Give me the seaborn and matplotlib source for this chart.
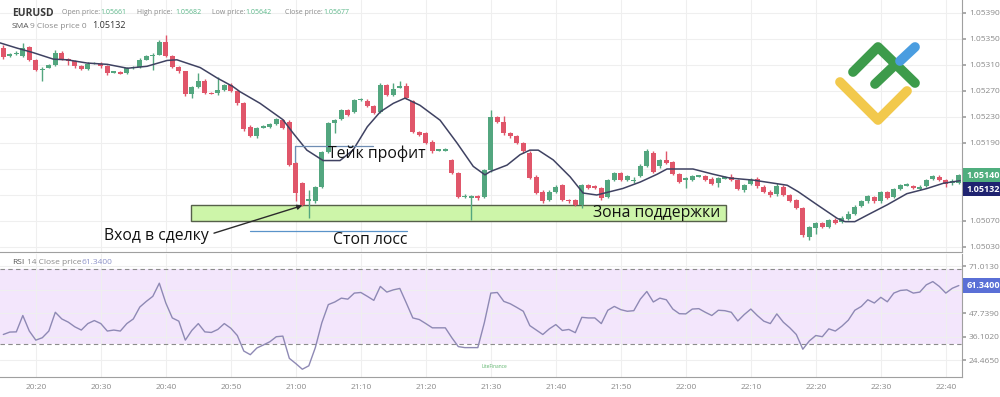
import numpy as np
import matplotlib
matplotlib.use('Agg')
import matplotlib.pyplot as plt
from matplotlib.patches import Rectangle
from matplotlib.lines import Line2D
import seaborn as sns

# ==================== 数据 ====================
# 1-минутные свечи EURUSD, 20:15 ... 22:42 (цены в 1e-5)
start_time = '20:15'
opens = [105336, 105325, 105327, 105324, 105338, 105318, 105303, 105306, 105310, 105329,
         105319, 105316, 105308, 105304, 105312, 105312, 105308, 105299, 105299, 105297,
         105305, 105307, 105318, 105324, 105326, 105346, 105324, 105307, 105300, 105265,
         105276, 105286, 105267, 105267, 105272, 105279, 105270, 105251, 105215, 105200,
         105214, 105215, 105219, 105225, 105223, 105159, 105128, 105102, 105101, 105122,
         105176, 105221, 105227, 105241, 105238, 105256, 105255, 105247, 105238, 105279,
         105264, 105276, 105278, 105254, 105207, 105205, 105192, 105179, 105179, 105164,
         105144, 105108, 105107, 105108, 105107, 105148, 105230, 105223, 105205, 105200,
         105190, 105175, 105138, 105115, 105102, 105115, 105125, 105102, 105102, 105095,
         105125, 105123, 105121, 105107, 105133, 105144, 105133, 105132, 105139, 105155,
         105175, 105154, 105164, 105160, 105142, 105134, 105133, 105139, 105139, 105135,
         105128, 105136, 105138, 105133, 105118, 105127, 105135, 105123, 105115, 105111,
         105123, 105110, 105102, 105090, 105045, 105059, 105067, 105061, 105072, 105069,
         105073, 105081, 105093, 105100, 105107, 105100, 105114, 105107, 105119, 105125,
         105124, 105119, 105124, 105135, 105138, 105133, 105128, 105129]
closes = [105322, 105326, 105328, 105336, 105318, 105302, 105304, 105310, 105329, 105319,
          105316, 105308, 105304, 105312, 105313, 105308, 105298, 105299, 105297, 105305,
          105307, 105318, 105324, 105326, 105346, 105324, 105307, 105300, 105265, 105276,
          105286, 105267, 105266, 105272, 105279, 105270, 105251, 105211, 105201, 105213,
          105215, 105219, 105227, 105213, 105156, 105113, 105095, 105103, 105122, 105176,
          105221, 105225, 105241, 105233, 105256, 105257, 105247, 105236, 105279, 105264,
          105273, 105276, 105259, 105207, 105202, 105190, 105177, 105179, 105180, 105144,
          105107, 105108, 105107, 105105, 105148, 105230, 105223, 105205, 105200, 105190,
          105177, 105136, 105113, 105100, 105115, 105122, 105102, 105101, 105095, 105125,
          105121, 105121, 105105, 105133, 105144, 105133, 105139, 105132, 105155, 105177,
          105146, 105164, 105159, 105142, 105130, 105135, 105139, 105139, 105133, 105127,
          105136, 105136, 105133, 105119, 105125, 105133, 105124, 105115, 105110, 105124,
          105110, 105101, 105090, 105048, 105061, 105067, 105061, 105071, 105067, 105075,
          105081, 105092, 105100, 105108, 105100, 105114, 105106, 105119, 105125, 105126,
          105121, 105123, 105133, 105139, 105133, 105127, 105132, 105140]
highs = [105341, 105329, 105332, 105344, 105339, 105319, 105307, 105312, 105333, 105332,
         105321, 105318, 105310, 105314, 105315, 105314, 105310, 105300, 105301, 105307,
         105309, 105320, 105326, 105328, 105348, 105356, 105326, 105308, 105301, 105278,
         105298, 105288, 105268, 105292, 105281, 105283, 105272, 105253, 105217, 105215,
         105217, 105221, 105229, 105227, 105225, 105161, 105130, 105118, 105124, 105178,
         105223, 105227, 105243, 105243, 105258, 105259, 105257, 105248, 105283, 105281,
         105282, 105286, 105282, 105256, 105209, 105207, 105194, 105181, 105182, 105166,
         105146, 105111, 105110, 105110, 105150, 105241, 105232, 105231, 105207, 105202,
         105192, 105177, 105140, 105117, 105117, 105126, 105127, 105104, 105104, 105127,
         105127, 105125, 105123, 105135, 105146, 105146, 105141, 105138, 105157, 105180,
         105178, 105166, 105178, 105162, 105144, 105137, 105141, 105141, 105141, 105137,
         105138, 105139, 105142, 105135, 105127, 105136, 105137, 105125, 105117, 105128,
         105126, 105112, 105104, 105092, 105063, 105069, 105069, 105073, 105074, 105077,
         105085, 105094, 105102, 105110, 105109, 105116, 105116, 105121, 105127, 105129,
         105126, 105125, 105135, 105141, 105140, 105135, 105134, 105142]
lows = [105319, 105323, 105326, 105322, 105316, 105301, 105285, 105305, 105308, 105317,
        105310, 105306, 105302, 105302, 105311, 105306, 105294, 105298, 105296, 105296,
        105304, 105306, 105317, 105302, 105325, 105323, 105305, 105298, 105263, 105259,
        105274, 105265, 105265, 105264, 105270, 105268, 105249, 105209, 105199, 105197,
        105213, 105213, 105218, 105211, 105154, 105100, 105093, 105075, 105098, 105120,
        105174, 105205, 105225, 105231, 105236, 105255, 105245, 105234, 105236, 105262,
        105262, 105274, 105257, 105205, 105200, 105188, 105175, 105177, 105178, 105142,
        105105, 105106, 105072, 105103, 105105, 105146, 105221, 105203, 105198, 105188,
        105175, 105134, 105111, 105098, 105100, 105113, 105100, 105098, 105093, 105090,
        105119, 105119, 105103, 105105, 105131, 105131, 105131, 105129, 105137, 105153,
        105144, 105152, 105157, 105140, 105128, 105121, 105131, 105137, 105131, 105125,
        105122, 105134, 105131, 105117, 105114, 105125, 105120, 105113, 105107, 105109,
        105108, 105099, 105088, 105046, 105041, 105050, 105059, 105059, 105065, 105067,
        105071, 105079, 105091, 105098, 105098, 105098, 105104, 105105, 105117, 105124,
        105119, 105117, 105122, 105133, 105131, 105122, 105126, 105127]

# SMA 9 (минуты после 20:00, цена в 1e-5)
sma_minutes = [14.5, 17.1, 19.6, 22.7, 24.8, 27.9, 31.0, 34.1, 37.1, 40.2, 41.7, 45.3,
               47.9, 50.3, 51.4, 54.5, 58.0, 59.6, 61.7, 64.2, 66.8, 68.8, 71.0, 73.0,
               75.0, 76.8, 79.1, 82.2, 84.8, 87.3, 89.1, 89.9, 92.5, 94.5, 96.0, 97.3,
               99.6, 102.2, 104.2, 106.3, 107.9, 110.3, 113.0, 115.6, 117.1, 121.1, 124.2,
               126.8, 130.3, 135.6, 137.3, 140.2, 143.3, 144.5, 146.0, 147.9, 151.0, 154.0,
               157.1, 159.6, 162.2]
sma_values = [105344, 105336, 105329, 105319, 105318, 105313, 105311, 105305, 105308, 105317,
              105318, 105306, 105290, 105277, 105269, 105251, 105226, 105205, 105179, 105163,
              105163, 105179, 105215, 105238, 105251, 105259, 105248, 105225, 105190, 105154,
              105141, 105146, 105156, 105172, 105179, 105179, 105164, 105138, 105113, 105110,
              105114, 105120, 105130, 105142, 105150, 105150, 105142, 105136, 105133, 105125,
              105115, 105095, 105074, 105069, 105069, 105079, 105095, 105112, 105120, 105128,
              105132]

# RSI 14, по одной точке на свечу
rsi_values = [37.1, 38.3, 38.4, 46.5, 38.8, 34.3, 35.5, 38.8, 48.1, 44.8,
              43.2, 40.9, 39.3, 42.5, 44.0, 42.5, 38.8, 39.3, 38.8, 42.5,
              44.8, 50.7, 53.5, 56.0, 62.5, 52.7, 45.3, 43.7, 34.3, 39.1,
              42.5, 38.4, 38.1, 39.6, 42.5, 40.2, 36.6, 28.9, 27.1, 30.4,
              31.9, 33.5, 36.0, 36.3, 25.3, 22.7, 19.9, 21.6, 30.6, 42.9,
              51.9, 53.2, 55.1, 54.6, 57.6, 57.9, 56.0, 54.0, 60.9, 58.1,
              59.2, 59.9, 52.7, 45.3, 44.5, 42.5, 40.4, 40.4, 40.4, 35.5,
              31.1, 30.6, 30.6, 30.6, 42.9, 57.6, 57.9, 53.5, 52.3, 50.5,
              48.6, 41.5, 39.3, 37.1, 39.9, 42.0, 39.1, 39.6, 38.0, 45.6,
              45.3, 45.3, 42.5, 49.1, 51.0, 49.4, 48.6, 48.9, 54.6, 58.4,
              53.2, 55.1, 54.3, 49.7, 47.4, 47.3, 49.7, 49.9, 48.1, 46.5,
              49.1, 48.9, 48.1, 43.8, 47.0, 49.7, 46.5, 43.7, 42.5, 47.3,
              43.2, 40.4, 37.1, 29.8, 33.9, 36.6, 36.0, 39.9, 38.8, 41.2,
              44.2, 49.1, 51.0, 54.3, 52.7, 55.5, 53.3, 57.6, 58.9, 59.2,
              57.6, 58.1, 61.7, 63.3, 60.9, 57.6, 60.0, 61.34]
rsi_upper, rsi_lower = 69.5, 32.5

time_labels = ['20:20', '20:30', '20:40', '20:50', '21:00', '21:10', '21:20', '21:30',
               '21:40', '21:50', '22:00', '22:10', '22:20', '22:30', '22:40']
price_ticks = [1.05030, 1.05070, 1.05110, 1.05150, 1.05190, 1.05230, 1.05270, 1.05310,
               1.05350, 1.05390]
rsi_ticks = [24.465, 36.102, 47.739, 59.376, 71.013]

# Разметка: зона поддержки, тейк профит, стоп лосс, вход
zone_low, zone_high = 1.05070, 1.05095
zone_from, zone_to = 43.85, 126.2
take_profit, tp_from, tp_to = 1.05185, 59.9, 71.9
stop_loss, sl_from, sl_to = 1.05055, 53.0, 77.1
entry_from, entry_to = (47.0, 1.05050), (61.4, 1.05095)

last_price, last_sma, last_rsi = 1.05140, 1.05132, 61.34

# ==================== 预处理 ====================
def to_min(s):
    h, m = s.split(':')
    return int(h) * 60 + int(m) - 20 * 60

o = np.array(opens) / 1e5
c = np.array(closes) / 1e5
h = np.array(highs) / 1e5
l = np.array(lows) / 1e5
t = to_min(start_time) + np.arange(len(c))
sma = np.array(sma_values) / 1e5

GREEN = '#53a67f'
RED = '#e0566a'
GRID = '#efefef'
AX_COL = '#a0a0a0'
TXT = '#8a8a8a'
NOTE_FS = 11.3

# ==================== 绘图 ====================
sns.set_theme(style="white")
plt.rcParams['font.family'] = ['Open Sans', 'DejaVu Sans']

fig = plt.figure(figsize=(10, 3.97), dpi=100)
H = 397.0
ax = fig.add_axes([0, 1 - 252 / H, 0.962, 252 / H])
ax_rsi = fig.add_axes([0, 20 / H, 0.962, 123 / H], sharex=ax)

# свечи
col = np.where(c >= o, GREEN, RED)
ax.vlines(t, l, h, colors=col, lw=1, zorder=3)
body = np.maximum(np.abs(c - o), 0.000022)
ax.bar(t, body, bottom=(o + c) / 2 - body / 2, width=0.72, color=col, lw=0, zorder=4)

sns.lineplot(x=sma_minutes, y=sma, ax=ax, color='#3f4262', lw=1.1, zorder=5, legend=False)

# зона поддержки
ax.add_patch(Rectangle((zone_from, zone_low), zone_to - zone_from, zone_high - zone_low,
                       facecolor='#cdf5a9', edgecolor='#56604a', lw=1.0, zorder=2))
ax.text(105.7, (zone_low + zone_high) / 2, 'Зона поддержки', fontsize=NOTE_FS,
        color='#111111', va='center', ha='left', zorder=6)

# тейк профит / стоп лосс
ax.plot([tp_from, tp_to], [take_profit, take_profit], color='#6f8db3', lw=0.9, zorder=5)
ax.plot([tp_from, tp_from], [take_profit, 1.05160], color='#6f8db3', lw=0.9, zorder=5)
ax.text(65.0, 1.05173, 'Тейк профит', fontsize=NOTE_FS, color='#111111', va='center', ha='left', zorder=6)
ax.plot([sl_from, sl_to], [stop_loss, stop_loss], color='#5a93c9', lw=0.9, zorder=5)
ax.text(65.7, 1.05041, 'Стоп лосс', fontsize=NOTE_FS, color='#111111', va='center', ha='left', zorder=6)

# вход
ax.annotate('', xy=entry_to, xytext=entry_from,
            arrowprops=dict(arrowstyle='-|>', color='#2b2b2b', lw=1.0, mutation_scale=7), zorder=6)
ax.text(30.5, 1.05047, 'Вход в сделку', fontsize=NOTE_FS, color='#111111', va='center', ha='left', zorder=6)

# оси цены (метки под плашками цены скрыты)
hidden = [1.05110, 1.05150]
ax.set_xlim(14.49, 162.49)
ax.set_ylim(1.050223, 1.054100)
ax.set_yticks(price_ticks)
ax.set_yticklabels(['' if p in hidden else f'{p:.5f}' for p in price_ticks])
ax.yaxis.tick_right()
ax.set_xticks([to_min(s) for s in time_labels])
ax.grid(True, color=GRID, lw=0.8)
ax.tick_params(axis='y', labelsize=6, colors=TXT, length=3, pad=2, color=AX_COL)
ax.tick_params(axis='x', labelbottom=False, length=0)
for side in ['top', 'left']:
    ax.spines[side].set_visible(False)
for side in ['right', 'bottom']:
    ax.spines[side].set_color(AX_COL)
    ax.spines[side].set_linewidth(0.8)

# метки последней цены и SMA
ax.annotate(f'{last_price:.5f}', xy=(1, last_price), xycoords=('axes fraction', 'data'),
            xytext=(3, 0), textcoords='offset points', ha='left', va='center', fontsize=6.5,
            color='white', fontweight='bold', annotation_clip=False, zorder=10,
            bbox=dict(boxstyle='square,pad=0.3', fc='#4fae7e', ec='none'))
ax.annotate(f'{last_sma:.5f}', xy=(1, last_sma), xycoords=('axes fraction', 'data'),
            xytext=(3, -6), textcoords='offset points', ha='left', va='center', fontsize=6.5,
            color='white', fontweight='bold', annotation_clip=False, zorder=10,
            bbox=dict(boxstyle='square,pad=0.3', fc='#1f2370', ec='none'))

# RSI
ax_rsi.axhspan(rsi_lower, rsi_upper, color='#f3e6fc', zorder=0, lw=0)
for lvl in [rsi_upper, rsi_lower]:
    ax_rsi.axhline(lvl, color='#8c8c8c', lw=0.8, ls=(0, (4, 3)), zorder=1)
sns.lineplot(x=t, y=rsi_values, ax=ax_rsi, color='#8e89b4', lw=1.0, zorder=3, legend=False)
ax_rsi.set_ylim(16.05, 76.96)
ax_rsi.set_yticks(rsi_ticks)
ax_rsi.set_yticklabels(['' if abs(v - last_rsi) < 5 else f'{v:.4f}' for v in rsi_ticks])
ax_rsi.yaxis.tick_right()
ax_rsi.set_xticks([to_min(s) for s in time_labels])
ax_rsi.set_xticklabels(time_labels)
ax_rsi.grid(True, color=GRID, lw=0.8)
ax_rsi.tick_params(axis='both', labelsize=6, colors=TXT, length=3, pad=2, color=AX_COL)
ax_rsi.set_xlabel('')
ax_rsi.set_ylabel('')
ax.set_xlabel('')
ax.set_ylabel('')
for side in ['top', 'left']:
    ax_rsi.spines[side].set_visible(False)
for side in ['right', 'bottom']:
    ax_rsi.spines[side].set_color(AX_COL)
    ax_rsi.spines[side].set_linewidth(0.8)
ax_rsi.annotate(f'{last_rsi:.4f}', xy=(1, last_rsi), xycoords=('axes fraction', 'data'),
                xytext=(3, 0), textcoords='offset points', ha='left', va='center', fontsize=6.5,
                color='white', fontweight='bold', annotation_clip=False, zorder=10,
                bbox=dict(boxstyle='square,pad=0.3', fc='#5a6fd6', ec='none'))

# ==================== 标题文字 ====================
def px(x, y):
    return x / 1000, 1 - y / H

fig.text(*px(12, 13), 'EURUSD', fontsize=7.5, fontweight='bold', color='#3a3a3a', va='center')
for x, s, cl in [(62, 'Open price:', TXT), (100, '1.05661', '#5cb88a'),
                 (137, 'High price:', TXT), (175, '1.05682', '#5cb88a'),
                 (212, 'Low price:', TXT), (245, '1.05642', '#5cb88a'),
                 (285, 'Close price:', TXT), (323, '1.05677', '#5cb88a')]:
    fig.text(*px(x, 13), s, fontsize=5, color=cl, va='center')
fig.text(*px(12, 26), 'SMA', fontsize=6, color='#555555', va='center')
fig.text(*px(30, 26), '9 Close price 0', fontsize=6, color=TXT, va='center')
fig.text(*px(92, 26), '1.05132', fontsize=6.5, color='#333333', va='center')
fig.text(*px(12, 262), 'RSI', fontsize=6, color='#555555', va='center')
fig.text(*px(27, 262), '14 Close price', fontsize=6, color=TXT, va='center')
fig.text(*px(82, 262), '61.3400', fontsize=6, color='#8d93c9', va='center')
fig.text(*px(482, 367), 'LiteFinance', fontsize=3.5, color='#5bb36a', va='center')

# логотип
logo = [([(853, 72), (878, 47), (915, 83)], '#3d9b4b'),
        ([(875, 84), (896, 64)], '#3d9b4b'),
        ([(900, 61), (915, 47)], '#4a9de0'),
        ([(840, 82), (878, 120), (907, 91)], '#f2c94c')]
for pts, cl in logo:
    xs = [px(x, y)[0] for x, y in pts]
    ys = [px(x, y)[1] for x, y in pts]
    fig.add_artist(Line2D(xs, ys, transform=fig.transFigure, lw=7, color=cl,
                          solid_capstyle='round', solid_joinstyle='round'))

fig.savefig('out.png', dpi=100)
